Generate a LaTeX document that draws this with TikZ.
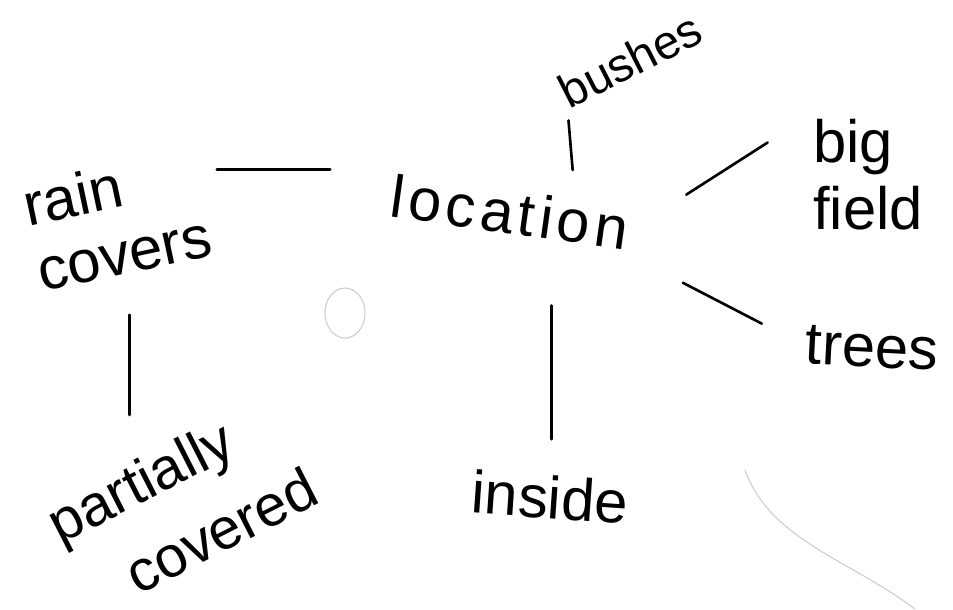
\documentclass[tikz,border=0pt]{standalone}
\usepackage{fontspec}
\setmainfont{Liberation Sans}
\usetikzlibrary{positioning, calc}
\tikzset{
MyWordStyle/.style  ={font=\fontsize{34}{38}\selectfont, inner sep=2pt, align=left},
MySmallWord/.style  ={font=\fontsize{27}{30}\selectfont},
MyEdgeStyle/.style  ={line width=1.5pt, line cap=round},
MyFaintStyle/.style ={draw=black!20, line width=0.6pt},
}

\begin{document}
\begin{tikzpicture}[x=0.02cm, y=-0.02cm]
\useasboundingbox (0,0) rectangle (953,609);
\begin{scope}[MyWordStyle]  % words
\node[rotate=-8, font=\fontsize{34}{38}\selectfont\addfontfeature{LetterSpace=8}] (loc) at (510,212) {location};
\node[rotate=12]  (rain) at (117,220) {rain\\covers};
\node[rotate=27, font=\fontsize{33}{46}\selectfont] (part) at (182,505) {partially\\\hspace{0.8em}covered};
\node[rotate=-4]  (ins)  at (550,497) {inside};
\node[rotate=27, MySmallWord] (bush) at (630,60) {bushes};
\node             (big)  at (868,175) {big\\field};
\node[rotate=-3]  (tree) at (872,348) {trees};
\end{scope}

\begin{scope}[MyEdgeStyle]  % strokes
\draw[shorten <=0.2cm, shorten >=1.22cm] (rain.east |- loc.north west) -- (loc.north west);
\draw[shorten <=0.74cm, shorten >=1.8cm] (rain.south) -- (rain.south |- part);
\draw[shorten <=0.64cm, shorten >=1.36cm] (ins.north) -- (ins.north |- loc.south);
\draw[shorten <=0.5cm, shorten >=0.1cm] ($(loc.north)!0.5!(loc.north east)$) -- (bush.south west);
\draw[shorten <=1.28cm, shorten >=0.99cm] (loc.east) -- (big.north west);
\draw[shorten <=1.22cm, shorten >=0.9cm] (loc.south east) -- (tree.west);
\end{scope}

% faint marks
\draw[MyFaintStyle] (345,313) ellipse (20 and 25);
\draw[MyFaintStyle] (745,470) .. controls (770,540) and (850,560) .. (915,609);
\end{tikzpicture}
\end{document}
